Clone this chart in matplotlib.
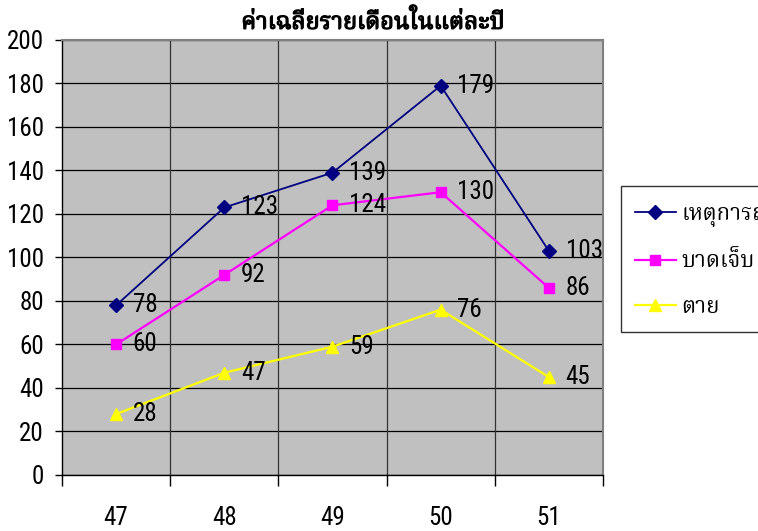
import matplotlib
matplotlib.use("Agg")
import matplotlib.pyplot as plt
from matplotlib import font_manager as fm
from matplotlib.ft2font import FT2Font
from matplotlib.ticker import FixedLocator, NullFormatter
import matplotlib.patheffects as pe

# ---- data ----
years = ["47", "48", "49", "50", "51"]
accidents = [78, 123, 139, 179, 103]   # เหตุการณ์
injured = [60, 92, 124, 130, 86]       # บาดเจ็บ
deaths = [28, 47, 59, 76, 45]          # ตาย
series_names = ["เหตุการณ์", "บาดเจ็บ", "ตาย"]
title = "ค่าเฉลี่ยรายเดือนในแต่ละปี"
y_ticks = [0, 20, 40, 60, 80, 100, 120, 140, 160, 180, 200]


def font_with_char(code, prefer=()):
    names = []
    for f in fm.fontManager.ttflist:
        try:
            if code in FT2Font(f.fname).get_charmap():
                names.append(f.name)
        except Exception:
            pass
    for p in prefer:
        if p in names:
            return p
    return names[0] if names else "DejaVu Sans"


def narrow_font():
    names = {f.name for f in fm.fontManager.ttflist}
    for cand in ("Liberation Sans Narrow", "Arial Narrow", "Roboto Condensed",
                 "Open Sans Condensed", "Noto Sans Condensed"):
        if cand in names:
            return cand, "normal"
    for f in fm.fontManager.ttflist:
        if f.name == "Liberation Sans" and f.stretch == "condensed":
            return "Liberation Sans", "condensed"
    return "Liberation Sans", "normal"


num_font, num_stretch = narrow_font()
thai_font = font_with_char(0x0E01, prefer=("Noto Serif Thai", "Noto Sans Thai Looped",
                                            "Sarabun", "Norasi", "Kinnari",
                                            "Noto Sans Thai", "Loma", "Garuda"))
num_prop = dict(family=num_font, fontstretch=num_stretch, fontsize=18)

fig = plt.figure(figsize=(7.58, 5.31), dpi=100)
fig.patch.set_facecolor("white")
ax = fig.add_axes([0.0818, 0.1055, 0.7137, 0.8192])
ax.set_facecolor("#C0C0C0")

x = list(range(len(years)))
styles = [
    (accidents, "#000080", "D", 7.5, 1.3),
    (injured, "#FF00FF", "s", 7.5, 1.6),
    (deaths, "#FFFF00", "^", 8.5, 1.6),
]
handles = []
for (vals, col, mk, ms, lw), name in zip(styles, series_names):
    h, = ax.plot(x, vals, color=col, marker=mk, markersize=ms, linewidth=lw,
                 markeredgecolor=col, markerfacecolor=col, zorder=3, label=name)
    handles.append(h)
    for xi, v in zip(x, vals):
        ax.annotate(str(v), (xi, v), xytext=(12, 0), textcoords="offset points",
                    va="center", ha="left", color="black", zorder=4, **num_prop)

ax.set_xlim(-0.5, len(years) - 0.5)
ax.set_ylim(0, 200)

# y axis
ax.set_yticks(y_ticks)
ax.set_yticklabels([str(t) for t in y_ticks], **num_prop)
ax.tick_params(axis="y", direction="out", length=5, width=1, color="black", pad=8)
ax.yaxis.grid(True, color="black", linewidth=0.9)

# x axis: labels at category centres, ticks and grid at boundaries
ax.set_xticks(x)
ax.set_xticklabels(years, **num_prop)
ax.tick_params(axis="x", which="major", length=0, pad=22)
bounds = [i - 0.5 for i in range(len(years) + 1)]
ax.xaxis.set_minor_locator(FixedLocator(bounds))
ax.xaxis.set_minor_formatter(NullFormatter())
ax.tick_params(axis="x", which="minor", direction="out", length=8, width=1, color="black")
for b in bounds[1:-1]:
    ax.axvline(b, color="#333333", linewidth=0.9, zorder=1)
ax.set_axisbelow(True)

for side in ("top", "right"):
    ax.spines[side].set_color("#808080")
    ax.spines[side].set_linewidth(1.5)
for side in ("left", "bottom"):
    ax.spines[side].set_color("black")
    ax.spines[side].set_linewidth(1)

fig.text(0.492, 0.957, title, ha="center", va="center", fontsize=17,
         fontweight="bold", family=[thai_font, "DejaVu Sans"],
         path_effects=[pe.withStroke(linewidth=0.9, foreground="black")])

leg = fig.legend(handles=handles, loc="upper left", bbox_to_anchor=(0.819, 0.65),
                 borderaxespad=0,
                 prop={"family": [thai_font, "DejaVu Sans"], "size": 16},
                 frameon=True, fancybox=False, edgecolor="black",
                 handlelength=1.85, labelspacing=1.05, borderpad=0.62,
                 handletextpad=0.25)
leg.get_frame().set_linewidth(1)

fig.savefig("out.png", dpi=100)
